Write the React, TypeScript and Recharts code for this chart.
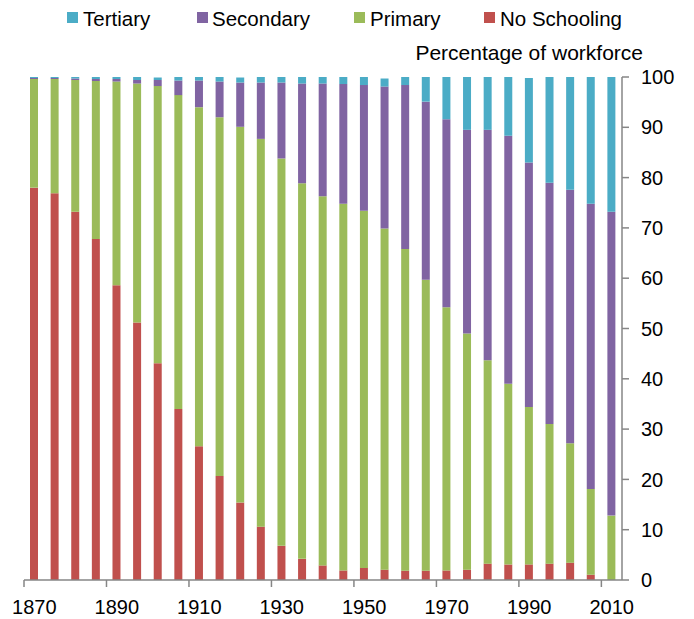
import React from 'react'
import { BarChart, Bar, XAxis, YAxis } from 'recharts'

const years = [
  1870, 1875, 1880, 1885, 1890, 1895, 1900, 1905, 1910, 1915,
  1920, 1925, 1930, 1935, 1940, 1945, 1950, 1955, 1960, 1965,
  1970, 1975, 1980, 1985, 1990, 1995, 2000, 2005, 2010,
]
const noSchooling = [
  78.0, 76.9, 73.2, 67.8, 58.6, 51.2, 43.1, 34.0, 26.6, 20.7,
  15.4, 10.6, 6.8, 4.2, 2.9, 1.9, 2.4, 2.05, 1.85, 1.85,
  1.9, 2.05, 3.25, 3.1, 3.1, 3.25, 3.45, 1.05, 0,
]
const primary = [
  21.6, 22.7, 26.2, 31.4, 40.5, 47.5, 55.1, 62.4, 67.4, 71.3,
  74.7, 77.1, 77.0, 74.7, 73.4, 72.9, 71.0, 67.85, 63.95, 57.85,
  52.3, 46.95, 40.45, 35.9, 31.3, 27.75, 23.75, 17.05, 12.8,
]
const secondary = [
  0.2, 0.2, 0.3, 0.4, 0.5, 0.7, 1.2, 2.9, 5.3, 7.1,
  8.8, 11.2, 15.1, 19.8, 22.4, 23.8, 25.0, 28.2, 32.6, 35.4,
  37.4, 40.5, 45.8, 49.3, 48.6, 48.0, 50.4, 56.7, 60.4,
]
const tertiary = [
  0.2, 0.2, 0.3, 0.4, 0.4, 0.6, 0.5, 0.7, 0.7, 0.9,
  1.0, 1.1, 1.1, 1.3, 1.3, 1.4, 1.6, 1.6, 1.6, 4.9,
  8.4, 10.5, 10.5, 11.7, 16.8, 21.0, 22.4, 25.2, 26.8,
]
const yTicks = [0, 10, 20, 30, 40, 50, 60, 70, 80, 90, 100]

const series = [
  { key: 'tertiary', name: 'Tertiary', color: '#4BACC6' },
  { key: 'secondary', name: 'Secondary', color: '#8064A2' },
  { key: 'primary', name: 'Primary', color: '#9BBB59' },
  { key: 'noSchooling', name: 'No Schooling', color: '#C0504D' },
]

const data = years.map((y, i) => ({
  year: y,
  noSchooling: noSchooling[i],
  primary: primary[i],
  secondary: secondary[i],
  tertiary: tertiary[i],
}))

const FONT = '"Liberation Sans", Arial, sans-serif'
const AXIS = '#868686'
const W = 694
const H = 619
const PLOT_L = 24
const PLOT_R = 622
const BAND = (PLOT_R - PLOT_L) / years.length

const XTick = (props: any) => {
  const { x, y, payload } = props
  const tx = x - BAND / 2
  return (
    <g>
      <line x1={tx} x2={tx} y1={y} y2={y + 7} stroke={AXIS} strokeWidth={1.5} />
      <text x={x} y={y + 34} textAnchor="middle" fontSize={20} fontFamily={FONT} fill="#000">
        {payload.value}
      </text>
    </g>
  )
}

const legendPos = [
  { sq: 67, tx: 83 },
  { sq: 197, tx: 212 },
  { sq: 354, tx: 370 },
  { sq: 484, tx: 500 },
]

export default function App() {
  return (
    <div style={{ position: 'absolute', left: 0, top: 0, width: W, height: H, background: '#fff' }}>
      <BarChart
        width={W}
        height={H}
        data={data}
        margin={{ top: 77, right: 0, left: PLOT_L, bottom: 0 }}
        barSize={8}
      >
        <XAxis
          dataKey="year"
          interval={3}
          height={39}
          tickLine={false}
          tickSize={0}
          tickMargin={0}
          axisLine={{ stroke: AXIS, strokeWidth: 1.5 }}
          tick={<XTick />}
        />
        <YAxis
          orientation="right"
          width={72}
          domain={[0, 100]}
          ticks={yTicks}
          tickSize={7}
          tickMargin={12}
          axisLine={{ stroke: AXIS, strokeWidth: 1.5 }}
          tickLine={{ stroke: AXIS, strokeWidth: 1.5 }}
          tick={{ fill: '#000', fontSize: 20, fontFamily: FONT }}
        />
        <Bar dataKey="noSchooling" stackId="a" fill="#C0504D" isAnimationActive={false} />
        <Bar dataKey="primary" stackId="a" fill="#9BBB59" isAnimationActive={false} />
        <Bar dataKey="secondary" stackId="a" fill="#8064A2" isAnimationActive={false} />
        <Bar dataKey="tertiary" stackId="a" fill="#4BACC6" isAnimationActive={false} />
      </BarChart>
      <svg width={W} height={70} style={{ position: 'absolute', left: 0, top: 0 }}>
        {series.map((s, i) => (
          <g key={s.key}>
            <rect x={legendPos[i].sq} y={12} width={11} height={11} fill={s.color} />
            <text x={legendPos[i].tx} y={26} fontSize={20.5} fontFamily={FONT} fill="#000">
              {s.name}
            </text>
          </g>
        ))}
        <text x={643} y={60} textAnchor="end" fontSize={21} fontFamily={FONT} fill="#000">
          Percentage of workforce
        </text>
      </svg>
    </div>
  )
}
